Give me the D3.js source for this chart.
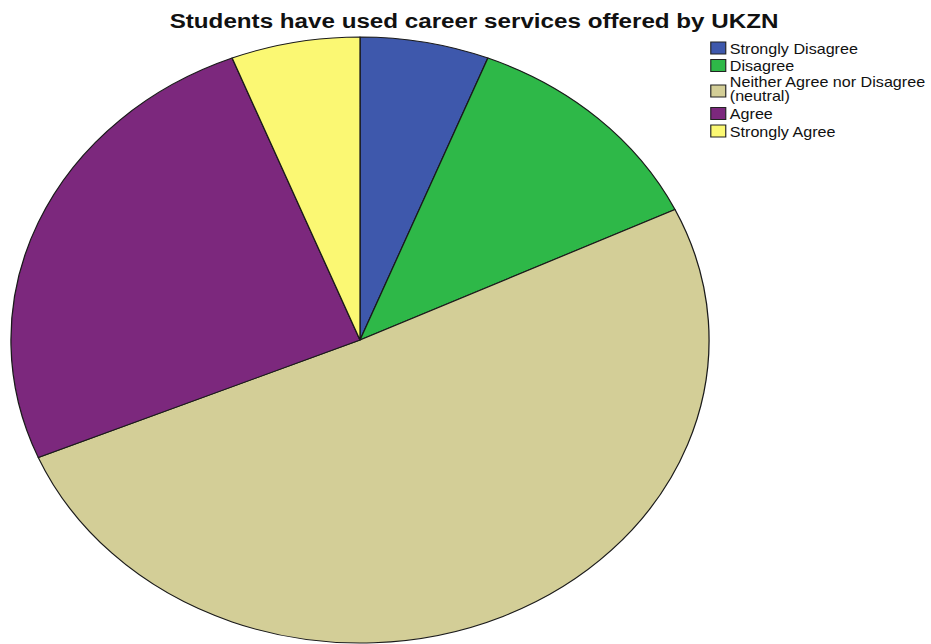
<!DOCTYPE html>
<html>
<head>
<meta charset="utf-8">
<script src="https://cdn.jsdelivr.net/npm/d3@7"></script>
<style>
  html, body { margin: 0; padding: 0; background: #fff; }
  svg { display: block; }
</style>
</head>
<body>
<svg id="chart" width="931" height="644"></svg>
<script>
// Response categories and counts
const categories = [
  "Strongly Disagree",
  "Disagree",
  "Neither Agree nor Disagree (neutral)",
  "Agree",
  "Strongly Agree"
];
const counts = [4, 8, 34, 17, 4];
const legendLines = [
  ["Strongly Disagree"],
  ["Disagree"],
  ["Neither Agree nor Disagree", "(neutral)"],
  ["Agree"],
  ["Strongly Agree"]
];
const colors = ["#3e58ac", "#2eb848", "#d3ce97", "#7c287d", "#fbf873"];
const title = "Students have used career services offered by UKZN";

const svg = d3.select("#chart");
// Chart is drawn in a base frame and widened horizontally
const sx = 1.152;
const root = svg.append("g").attr("transform", `scale(${sx},1)`);

const cx = 312.5, cy = 340, r = 303;

const data = categories.map((c, i) => ({ category: c, value: counts[i] }));
const pie = d3.pie().sort(null).value(d => d.value);
const arc = d3.arc().innerRadius(0).outerRadius(r);
const color = d3.scaleOrdinal().domain(categories).range(colors);

root.append("g")
  .attr("transform", `translate(${cx},${cy})`)
  .selectAll("path")
  .data(pie(data))
  .join("path")
  .attr("d", arc)
  .attr("fill", d => color(d.data.category))
  .attr("stroke", "#1a1a1a")
  .attr("stroke-width", 1.1)
  .attr("stroke-linejoin", "round");

// Title
root.append("text")
  .attr("x", 411.5)
  .attr("y", 28)
  .attr("text-anchor", "middle")
  .attr("font-family", "'Liberation Sans', Arial, sans-serif")
  .attr("font-weight", "bold")
  .attr("font-size", 21)
  .attr("fill", "#111")
  .text(title);

// Legend
const boxX = 617, boxW = 13, boxH = 12, textX = 633.5;
const rowBoxTop = [42, 59.5, 85, 107.5, 125];
const rowBaseline = [54, 71, 87.5, 119.5, 137];
const lg = root.append("g")
  .attr("font-family", "'Liberation Sans', Arial, sans-serif")
  .attr("font-size", 14)
  .attr("fill", "#111");

categories.forEach((c, i) => {
  lg.append("rect")
    .attr("x", boxX)
    .attr("y", rowBoxTop[i])
    .attr("width", boxW)
    .attr("height", boxH)
    .attr("fill", color(c))
    .attr("stroke", "#222")
    .attr("stroke-width", 1);
  const t = lg.append("text")
    .attr("x", textX)
    .attr("y", rowBaseline[i]);
  legendLines[i].forEach((line, j) => {
    t.append("tspan")
      .attr("x", textX)
      .attr("dy", j === 0 ? 0 : 13.5)
      .text(line);
  });
});
</script>
</body>
</html>
